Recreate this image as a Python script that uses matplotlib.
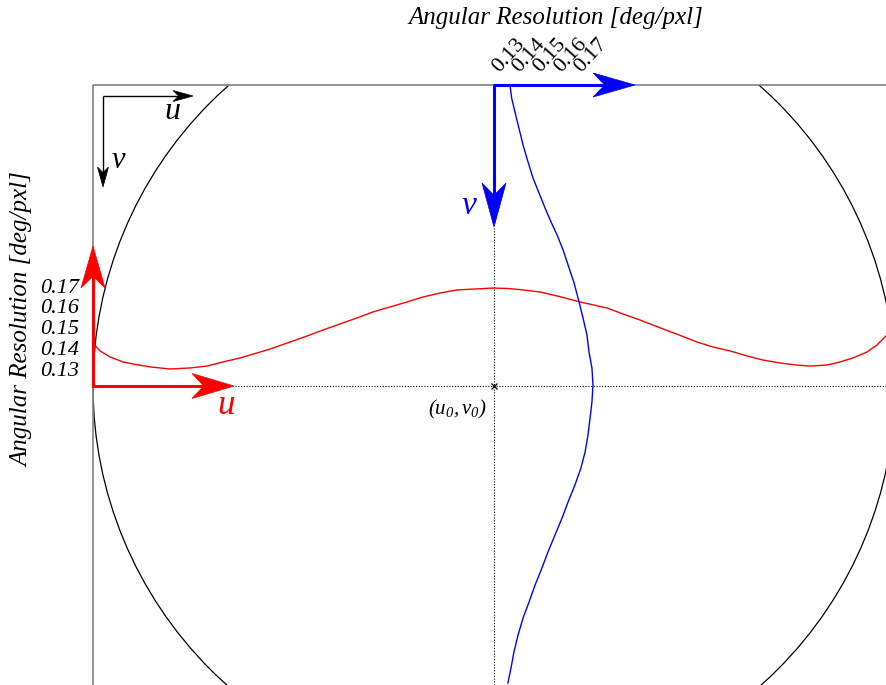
import numpy as np
import matplotlib
matplotlib.use("Agg")
import matplotlib.pyplot as plt
from matplotlib.patches import Circle, Polygon, Rectangle

plt.rcParams["font.family"] = ["Liberation Serif", "DejaVu Serif"]
plt.rcParams["mathtext.fontset"] = "custom"
plt.rcParams["mathtext.it"] = "Liberation Serif:italic"
plt.rcParams["mathtext.rm"] = "Liberation Serif:italic"

# image geometry (pixel coordinates, v grows downward)
W, H = 887, 685
u0, v0 = 494, 386
radius = 401
frame_u, frame_v = 93, 85

# angular resolution along the horizontal line through the principal point
u_px = [94, 100, 110, 123, 133, 150, 170, 190, 207, 223, 240, 270, 290, 307,
        323, 340, 357, 373, 390, 407, 423, 440, 457, 473, 493, 508, 523, 540,
        557, 580, 607, 623, 640, 663, 680, 697, 713, 730, 747, 763, 780, 797,
        810, 827, 840, 853, 867, 877, 887]
res_u = [0.1429, 0.1397, 0.1368, 0.1344, 0.1334, 0.1320, 0.1310, 0.1315, 0.1324,
         0.1344, 0.1363, 0.1406, 0.1440, 0.1469, 0.1498, 0.1527, 0.1556, 0.1585,
         0.1609, 0.1633, 0.1657, 0.1676, 0.1691, 0.1695, 0.1700, 0.1698, 0.1691,
         0.1681, 0.1662, 0.1633, 0.1604, 0.1575, 0.1546, 0.1503, 0.1472, 0.1440,
         0.1416, 0.1397, 0.1373, 0.1353, 0.1339, 0.1329, 0.1324, 0.1329, 0.1344,
         0.1363, 0.1392, 0.1426, 0.1474]

# angular resolution along the vertical line through the principal point
v_px = [85, 98, 112, 128, 145, 162, 178, 193, 208, 222, 235, 250, 265, 283,
        302, 318, 335, 352, 368, 385, 402, 418, 435, 452, 468, 485, 502, 518,
        535, 552, 568, 585, 602, 618, 635, 652, 668, 683]
res_v = [0.1305, 0.1313, 0.1329, 0.1348, 0.1368, 0.1392, 0.1416, 0.1445, 0.1474,
         0.1503, 0.1532, 0.1561, 0.1585, 0.1614, 0.1638, 0.1657, 0.1676, 0.1686,
         0.1700, 0.1705, 0.1700, 0.1691, 0.1681, 0.1667, 0.1647, 0.1618, 0.1585,
         0.1556, 0.1522, 0.1488, 0.1459, 0.1426, 0.1397, 0.1368, 0.1344, 0.1324,
         0.1310, 0.1295]

res_ticks = [0.13, 0.14, 0.15, 0.16, 0.17]
res_labels = ["0.13", "0.14", "0.15", "0.16", "0.17"]

# plotting scale for the resolution curves
res_base = 0.1228
px_per_unit = 2075.0

RED = "#ff0000"
BLUE = "#0000ff"


def arrow(ax, x0, y0, x1, y1, color, lw, head_len, head_w):
    d = np.array([x1 - x0, y1 - y0], float)
    d /= np.hypot(*d)
    n = np.array([-d[1], d[0]])
    tip = np.array([x1, y1], float)
    back = tip - d * head_len
    notch = tip - d * head_len * 0.72
    ax.plot([x0, notch[0]], [y0, notch[1]], color=color, lw=lw,
            solid_capstyle="butt", zorder=5)
    head = [tip, back + n * head_w / 2, notch, back - n * head_w / 2]
    ax.add_patch(Polygon(head, closed=True, fc=color, ec=color, lw=0.5, zorder=6))


fig = plt.figure(figsize=(W / 100, H / 100), dpi=100)
ax = fig.add_axes([0, 0, 1, 1])
ax.set_xlim(0, W)
ax.set_ylim(H, 0)
ax.axis("off")

# image frame and fisheye circle clipped to it
ax.plot([frame_u, frame_u, W], [H, frame_v, frame_v], color="#808080", lw=1.2)
frame = Rectangle((frame_u, frame_v), W, H, fill=False, transform=ax.transData)
circle = Circle((u0, v0), radius, fill=False, ec="black", lw=0.9)
ax.add_patch(circle)
circle.set_clip_path(frame)

# dotted cross through the principal point
ax.plot([235, W], [v0, v0], color="black", lw=0.8, ls=(0, (1, 1.5)))
ax.plot([u0, u0], [228, H], color="black", lw=0.8, ls=(0, (1, 1.5)))
ax.plot([u0], [v0], marker="x", color="black", ms=5, mew=0.9)
ax.text(457, 409, r"$(u_0,v_0)$", ha="center", va="center", fontsize=15)

# image axes in the corner
arrow(ax, 103, 96, 193, 96, "black", 1.0, 20, 11)
arrow(ax, 103, 96, 103, 187, "black", 1.0, 20, 11)
ax.text(172, 111, "u", style="italic", fontsize=23, ha="center", va="center")
ax.text(118, 160, "v", style="italic", fontsize=22, ha="center", va="center")

# red resolution axes
arrow(ax, frame_u, v0 + 1, frame_u, 246, RED, 2.2, 42, 24)
arrow(ax, frame_u - 1, v0, 234, v0, RED, 2.2, 42, 25)
ax.text(226, 405, "u", style="italic", fontsize=25, color=RED, ha="center", va="center")

# blue resolution axes
arrow(ax, u0, frame_v, u0, 227, BLUE, 2.2, 44, 24)
arrow(ax, u0 - 1, frame_v, 635, frame_v, BLUE, 2.2, 42, 24)
ax.text(469, 206, "v", style="italic", fontsize=24, color=BLUE, ha="center", va="center")

ax.text(556, 18, "Angular Resolution [deg/pxl]", style="italic", fontsize=18,
        ha="center", va="center")
ax.text(22, 320, "Angular Resolution [deg/pxl]", style="italic", fontsize=18,
        rotation=90, ha="center", va="center")

# overlay for the horizontal profile: x in u pixels, y in deg/pxl
ax_u = fig.add_axes([0, (H - v0) / H, 1, v0 / H])
ax_u.set_xlim(0, W)
ax_u.set_ylim(res_base, res_base + v0 / px_per_unit)
ax_u.axis("off")
ax_u.patch.set_alpha(0)
ax_u.plot(u_px, res_u, color=RED, lw=1.0, solid_joinstyle="round")
for t, lab in zip(res_ticks, res_labels):
    ax_u.text(79, t, lab, style="italic", fontsize=16, ha="right", va="center")

# overlay for the vertical profile: x in deg/pxl, y in v pixels
ax_v = fig.add_axes([u0 / W, 0, (W - u0) / W, 1])
ax_v.set_xlim(res_base, res_base + (W - u0) / px_per_unit)
ax_v.set_ylim(H, 0)
ax_v.axis("off")
ax_v.patch.set_alpha(0)
ax_v.plot(res_v, v_px, color=BLUE, lw=1.0, solid_joinstyle="round")
for t, lab in zip(res_ticks, res_labels):
    ax_v.text(t - 0.0003, 76, lab, fontsize=16, rotation=48, ha="center", va="bottom")

fig.savefig("out.png", dpi=100)
